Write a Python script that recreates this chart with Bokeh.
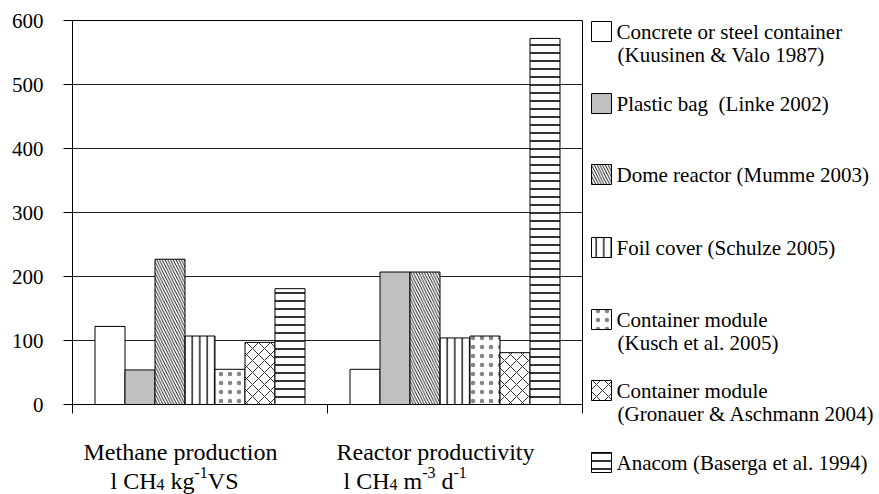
from bokeh.plotting import figure
from bokeh.models import Range1d, FixedTicker
from bokeh.layouts import row, column
from bokeh.core.properties import value
from bokeh.embed import file_html
from bokeh.resources import INLINE

# ---------------- data ----------------
categories = ["Methane production", "Reactor productivity"]
unit_parts = [
    [("l CH", ""), ("4", "sub"), (" kg", ""), ("-1", "sup"), ("VS", "")],
    [("l CH", ""), ("4", "sub"), (" m", ""), ("-3", "sup"), (" d", ""), ("-1", "sup")],
]
series_names = [
    "Concrete or steel container",
    "Plastic bag\u00a0 (Linke 2002)",
    "Dome reactor (Mumme 2003)",
    "Foil cover (Schulze 2005)",
    "Container module",
    "Container module",
    "Anacom (Baserga et al. 1994)",
]
series_second_line = [
    "(Kuusinen & Valo 1987)", "", "", "",
    "(Kusch et al. 2005)", "(Gronauer & Aschmann 2004)", "",
]
concrete = [122, 55]
plastic_bag = [54, 207]
dome_reactor = [227, 207]
foil_cover = [107, 104]
container_kusch = [55, 107]
container_gronauer = [97, 81]
anacom = [181, 572]
y_ticks = [0, 100, 200, 300, 400, 500, 600]

values = [concrete, plastic_bag, dome_reactor, foil_cover,
          container_kusch, container_gronauer, anacom]

# ---------------- styles ----------------
FONT = "Liberation Serif"
styles = [
    dict(fill_color="white", hatch_pattern=" "),
    dict(fill_color="#c0c0c0", hatch_pattern=" "),
    dict(fill_color="white", hatch_pattern="\\", hatch_scale=5.5, hatch_weight=0.9, hatch_color="black"),
    dict(fill_color="white", hatch_pattern="|", hatch_scale=7.5, hatch_weight=1.3, hatch_color="black"),
    dict(fill_color="white", hatch_pattern=".", hatch_scale=9, hatch_weight=0.5, hatch_color="#666666", hatch_alpha=0.8),
    dict(fill_color="white", hatch_pattern="x", hatch_scale=12, hatch_weight=1, hatch_color="#333333"),
    dict(fill_color="white", hatch_pattern="-", hatch_scale=8, hatch_weight=1.6, hatch_color="black"),
]

TOTAL_W, TOTAL_H = 879, 494
MAIN_W, MAIN_H = 584, 426
FR_L, FR_R, FR_T, FR_B = 72, 582, 20, 404
PX_PER_CAT = (FR_R - FR_L) / 2.0

# ---------------- main chart ----------------
p = figure(width=MAIN_W, height=MAIN_H, x_range=Range1d(0, 2), y_range=Range1d(0, 600),
           output_backend="svg", toolbar_location=None,
           min_border_left=FR_L, min_border_right=MAIN_W - FR_R,
           min_border_top=FR_T, min_border_bottom=MAIN_H - FR_B)
p.background_fill_color = "white"
p.border_fill_color = "white"
p.outline_line_color = "black"
p.outline_line_width = 1

p.xgrid.visible = False
p.ygrid.ticker = FixedTicker(ticks=y_ticks)
p.ygrid.grid_line_color = "#222222"
p.ygrid.grid_line_width = 1

p.yaxis.ticker = FixedTicker(ticks=y_ticks)
p.yaxis.major_tick_out = 9
p.yaxis.major_tick_in = 0
p.yaxis.minor_tick_line_color = None
p.yaxis.axis_line_color = "black"
p.yaxis.major_tick_line_color = "black"
p.yaxis.major_label_text_font = FONT
p.yaxis.major_label_text_font_size = "21px"
p.yaxis.major_label_text_color = "black"
p.yaxis.major_label_standoff = 20

p.xaxis.ticker = FixedTicker(ticks=[0, 1, 2])
p.xaxis.major_label_overrides = {0: "", 1: "", 2: ""}
p.xaxis.major_label_text_font_size = "1px"
p.xaxis.major_label_standoff = 0
p.xaxis.major_tick_out = 9
p.xaxis.major_tick_in = 0
p.xaxis.minor_tick_line_color = None
p.xaxis.axis_line_color = "black"
p.xaxis.major_tick_line_color = "black"

BW = 30 / PX_PER_CAT
for k, (vals, st) in enumerate(zip(values, styles)):
    xs = [i + 0.5 + (k - 3) * BW for i in range(len(categories))]
    p.vbar(x=xs, top=vals, bottom=0, width=BW, line_color="black", line_width=1, **st)

# ---------------- category labels (below) ----------------
BOT_H = TOTAL_H - MAIN_H
b = figure(width=MAIN_W, height=BOT_H, x_range=Range1d(0, 2),
           y_range=Range1d(TOTAL_H, MAIN_H),
           output_backend="svg", toolbar_location=None,
           x_axis_type=None, y_axis_type=None,
           min_border_left=FR_L, min_border_right=MAIN_W - FR_R,
           min_border_top=0, min_border_bottom=0)
b.outline_line_color = None
b.grid.visible = False
b.background_fill_color = "white"
b.border_fill_color = "white"

cat_center_offset = (180 - FR_L) / PX_PER_CAT  # label centre within category
b.text(x=[i + cat_center_offset for i in range(len(categories))], y=[451] * len(categories),
       text=categories, text_font=value(FONT), text_font_size=value("24px"),
       text_color="black", text_align="center", text_baseline="alphabetic")

W = {'l': .278, ' ': .25, 'C': .667, 'H': .722, 'k': .5, 'g': .5, 'V': .722,
     'S': .556, 'm': .778, 'd': .5, '4': .5, '-': .333, '1': .5, '3': .5}
unit_left_offsets = [(110 - FR_L) / PX_PER_CAT, (343 - FR_L) / PX_PER_CAT - 1]
for i, parts in enumerate(unit_parts):
    xpx = 0.0
    for txt, kind in parts:
        size = 24 if kind == "" else 16
        base = 480 + (4 if kind == "sub" else (-8 if kind == "sup" else 0))
        lead = len(txt) - len(txt.lstrip(" "))
        xpx += lead * W[' '] * size
        shown = txt.lstrip(" ")
        b.text(x=[i + unit_left_offsets[i] + xpx / PX_PER_CAT], y=[base], text=[shown],
               text_font=value(FONT), text_font_size=value(f"{size}px"),
               text_color="black", text_align="left", text_baseline="alphabetic")
        xpx += sum(W.get(ch, .5) for ch in shown) * size

# ---------------- legend (right) ----------------
LEG_W = TOTAL_W - MAIN_W
lg = figure(width=LEG_W, height=TOTAL_H, x_range=Range1d(MAIN_W, TOTAL_W),
            y_range=Range1d(TOTAL_H, 0),
            output_backend="svg", toolbar_location=None,
            x_axis_type=None, y_axis_type=None,
            min_border_left=0, min_border_right=0, min_border_top=0, min_border_bottom=0)
lg.outline_line_color = None
lg.grid.visible = False
lg.background_fill_color = "white"
lg.border_fill_color = "white"

legend_centers = [31, 103, 174, 247, 319, 390, 462]
for k, st in enumerate(styles):
    c = legend_centers[k]
    lg.quad(left=[591], right=[611], top=[c - 10], bottom=[c + 10],
            line_color="black", line_width=1, **st)
    lg.text(x=[616], y=[c], text=[series_names[k]], text_font=value(FONT),
            text_font_size=value("21px"), text_color="black",
            text_align="left", text_baseline="middle")
    if series_second_line[k]:
        lg.text(x=[617], y=[c + 23], text=[series_second_line[k]], text_font=value(FONT),
                text_font_size=value("21px"), text_color="black",
                text_align="left", text_baseline="middle")

layout = row(column(p, b), lg)
open("out.html", "w").write(file_html(layout, INLINE))
